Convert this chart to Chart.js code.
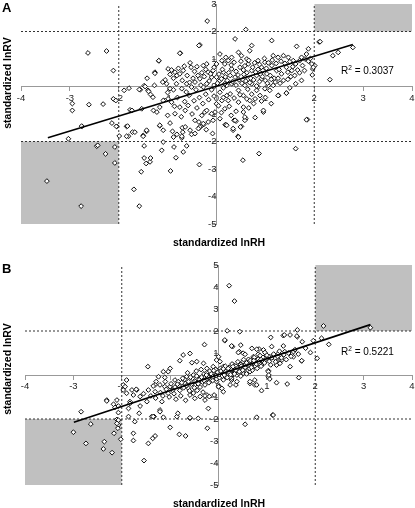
<!DOCTYPE html>
<html lang=en>
<head>
<meta charset=UTF-8>
<title>standardized lnRV vs standardized lnRH</title>
<script src="https://cdn.jsdelivr.net/npm/chart.js"></script>
<style>
  * { margin: 0; padding: 0; }
  body {
    width: 415px; height: 508px; position: relative; overflow: hidden;
    background: #fff; font-family: "Liberation Sans", Arial, sans-serif; color: #000;
  }
  canvas { position: absolute; left: 0; }
  #chartA { top: 0; }
  #chartB { top: 255px; }
  .panel { position: absolute; left: 2px; font-weight: bold; font-size: 13px; line-height: 13px; }
  .xtitle { position: absolute; left: 119px; width: 200px; text-align: center; font-weight: bold; font-size: 10.5px; line-height: 12px; }
  .ytitle { position: absolute; left: -53px; width: 120px; text-align: center; font-weight: bold; font-size: 10.5px; line-height: 12px; transform: rotate(-90deg); white-space: nowrap; }
  .r2 { position: absolute; left: 341px; font-size: 10px; line-height: 12px; white-space: nowrap; }
  .r2 sup { font-size: 6.5px; vertical-align: 4px; }
</style>
</head>
<body>
<canvas id="chartA" width="415" height="250"></canvas>
<canvas id="chartB" width="415" height="253"></canvas>

<div class="panel" style="top:1px">A</div>
<div class="panel" style="top:262px">B</div>
<div class="ytitle" style="top:77px">standardized lnRV</div>
<div class="ytitle" style="top:363px">standardized lnRV</div>
<div class="xtitle" style="top:236px">standardized lnRH</div>
<div class="xtitle" style="top:497px">standardized lnRH</div>
<div class="r2" style="top:62px">R<sup>2</sup> = 0.3037</div>
<div class="r2" style="top:343px">R<sup>2</sup> = 0.5221</div>

<script>
// panel A: standardized lnRH (x) vs standardized lnRV (y)
const pointsA = [
  [-2.63,1.22],[-2.25,1.29],[-2.11,0.58],[-2.95,-0.62],[-2.95,-0.87],[-2.61,-0.66],[-2.32,-0.64],[-2.11,-0.45],
  [-2.06,-0.51],[-1.89,-0.14],[-1.79,-0.06],[-1.56,-0.12],[-1.48,0.03],[-1.40,-0.14],[-1.30,-0.39],[-1.26,0.52],
  [-1.18,0.93],[-1.77,-0.85],[-2.04,-1.45],[-2.75,-1.45],[-1.84,-1.45],[-1.42,0.30],[-0.34,1.51],[-0.74,1.21],
  [-0.19,2.38],[0.60,2.07],[0.38,1.73],[2.10,1.62],[1.64,1.46],[2.38,1.12],[2.49,1.24],[2.79,1.42],
  [2.01,0.76],[1.97,0.64],[1.96,0.42],[2.32,0.25],[1.86,-1.20],[1.43,-0.24],[1.27,-0.33],[0.96,-0.93],
  [0.79,-1.13],[0.60,-1.17],[0.40,-1.26],[0.51,-1.45],[0.18,-1.39],
  [-3.03,-1.90],[-2.76,-1.44],[-2.45,-2.17],[-2.43,-2.14],[-2.27,-2.45],[-2.08,-2.20],[-2.08,-2.78],[-3.47,-3.44],
  [-2.77,-4.35],[-2.14,-1.33],[-2.05,-1.45],[-1.99,-1.80],[-1.82,-1.44],[-1.80,-1.81],[-1.72,-1.66],[-1.50,-1.78],
  [-1.43,-1.63],[-1.48,-2.16],[-1.48,-2.60],[-1.44,-2.80],[-1.36,-2.74],[-1.35,-2.60],[-1.54,-3.10],[-1.69,-3.74],
  [-1.58,-4.35],[-1.16,-1.43],[-1.09,-1.59],[-1.12,-2.32],[-1.09,-2.02],[-0.95,-1.33],[-0.90,-1.63],[-0.87,-2.20],
  [-0.83,-2.59],[-0.94,-3.07],[-0.81,-1.74],[-0.70,-1.50],[-0.69,-1.66],[-0.71,-1.87],[-0.68,-2.38],[-0.61,-2.16],
  [-0.51,-1.74],[-0.36,-1.29],[-0.35,-1.50],[-0.35,-2.84],[-0.29,-1.41],[-0.26,-1.38],
  [-0.08,-1.71],[0.19,-1.39],[0.34,-1.59],[0.49,-1.47],[0.44,-1.81],[0.36,-1.23],[0.58,-1.23],[0.54,-2.68],
  [0.87,-2.44],[1.62,-2.26],
  [-0.36,1.49],[-0.75,1.21],[-1.18,0.94],[-0.27,0.76],[-0.54,0.86],[-0.40,0.72],[-0.99,0.64],[-0.92,0.60],
  [-1.26,0.48],[-0.85,0.52],[-0.81,0.40],[-0.75,0.46],[-0.68,0.58],[-1.05,0.24],[-1.02,0.10],[-1.27,0.04],
  [-1.46,0.00],[-1.58,-0.11],[-1.39,-0.18],[-1.35,-0.29],[-0.95,-0.08],[-0.88,-0.12],[-0.71,-0.08],[-0.61,0.10],
  [-0.51,-0.02],[-0.44,0.16],[-0.34,0.28],[-0.27,-0.02],[-0.20,0.10],[-0.10,0.34],[-0.07,0.58],[0.07,1.18],
  [0.11,0.94],[0.17,0.82],[0.00,0.82],[-0.20,0.82],[-0.17,0.52],[0.00,0.34],[0.07,0.22],[0.07,-0.21],
  [0.11,-0.51],[0.00,-0.63],[-0.03,-0.93],[-0.10,-0.99],[-0.24,-0.93],[-0.20,-0.87],[-0.30,-1.05],[-0.34,-1.47],
  [-0.27,-1.35],[-0.37,-1.53],[-0.58,-0.69],[-0.64,-0.87],[-0.75,-0.75],[-0.85,-0.99],[-0.92,-0.57],[-0.99,-0.45],
  [-1.09,-0.51],[-1.16,-0.75],[-1.29,-0.87],[-1.22,-0.93],[-1.16,-1.41],[-1.43,-1.59],[-1.67,-1.66],[-1.50,-1.81],
  [-1.84,-1.81],[-1.73,-0.87],[-1.53,-0.81],[-0.88,-1.84],[-0.71,-1.81],[-0.54,-1.59],[-0.44,-1.23],[0.19,1.06],
  [0.14,0.52],[0.21,0.04],[0.21,-0.33],[0.17,-0.81],[0.07,-1.17],[-0.07,-1.23],[-0.17,-1.29],[-0.21,-1.57],
  [-0.44,-1.71],[-0.64,-1.47],
  [1.13,1.67],[1.88,1.37],[2.12,1.63],[0.72,1.49],[0.68,1.30],[0.51,1.12],[0.45,1.24],[0.31,1.06],
  [0.24,0.94],[0.62,1.00],[0.85,0.94],[0.99,0.88],[1.16,1.12],[1.26,1.06],[1.37,1.12],[1.47,1.06],
  [1.57,0.94],[1.74,1.06],[1.84,1.18],[1.81,1.00],[1.95,0.82],[1.98,0.70],[1.54,0.58],[1.43,0.70],
  [1.37,0.22],[1.43,-0.24],[1.26,-0.33],[1.20,0.16],[1.06,0.04],[1.09,-0.14],[0.99,-0.08],[0.85,-0.02],
  [0.82,-0.14],[0.89,-0.33],[0.92,-0.53],[0.79,-0.45],[0.68,-0.51],[0.62,-0.45],[0.55,-0.33],[0.45,-0.14],
  [0.45,-0.57],[0.55,-0.75],[0.55,-0.93],[0.58,-1.11],[0.96,-0.87],[0.38,-1.23],[0.34,-1.53],[0.45,-1.84],
  [0.21,-1.41],[1.84,-1.21],[0.24,-0.51],[0.28,-0.27],[0.17,0.10],[1.13,0.76],[1.23,0.58],[1.33,0.46],
  [0.72,0.58],[0.82,0.40],[0.58,0.34],[0.38,0.34],[0.31,0.64],[0.48,0.70],[0.65,0.82],[0.92,0.70],
  [1.03,0.46],[0.92,0.28],[0.31,0.10],[0.58,0.04],[0.72,0.10],
  [0.05,0.45],[0.12,0.62],[0.18,0.35],[0.25,0.50],[0.30,0.78],[0.36,0.88],[0.40,0.55],[0.44,0.42],
  [0.50,0.92],[0.55,0.60],[0.58,0.75],[0.62,0.50],[0.66,0.95],[0.70,0.30],[0.74,0.70],[0.78,0.86],
  [0.80,0.52],[0.85,0.62],[0.88,0.80],[0.90,0.45],[0.95,0.58],[0.98,1.02],[1.02,0.66],[1.06,0.86],
  [1.10,0.40],[1.14,0.96],[1.18,0.30],[1.22,0.84],[1.28,0.62],[1.32,0.92],[1.40,0.84],[1.46,0.52],
  [1.50,0.90],[1.56,0.72],[1.62,0.82],[1.66,0.60],[1.70,0.94],[1.76,0.76],[1.88,0.92],[1.92,1.02],
  [0.02,0.12],[0.10,0.28],[0.14,-0.05],[0.22,0.22],[0.28,0.40],[0.33,0.18],[0.40,0.05],[0.46,0.24],
  [0.52,0.12],[0.56,0.44],[0.60,0.20],[0.64,-0.10],[0.68,0.14],[0.76,0.24],[0.82,0.02],[0.88,0.18],
  [0.94,0.36],[1.00,0.22],[1.04,0.12],[1.12,0.26],[1.16,0.04],[1.26,0.30],[1.30,0.12],[1.46,0.26],
  [1.52,0.36],[1.60,0.40],[1.70,0.50],[1.80,0.58],
  [-0.05,0.70],[-0.12,0.46],[-0.15,0.20],[-0.22,0.62],[-0.25,0.36],[-0.30,0.50],[-0.32,0.05],[-0.38,0.40],
  [-0.42,-0.12],[-0.45,0.55],[-0.48,0.30],[-0.52,0.70],[-0.55,0.15],[-0.60,0.40],[-0.62,-0.20],[-0.66,0.74],
  [-0.70,0.22],[-0.78,0.66],[-0.82,0.10],[-0.88,0.30],[-0.95,0.44],[-1.00,-0.22],[-1.10,0.16],
  [-0.05,-0.35],[-0.10,-0.12],[-0.16,-0.48],[-0.22,-0.28],[-0.28,-0.62],[-0.35,-0.40],[-0.40,-0.78],[-0.46,-0.52],
  [-0.50,-1.00],[-0.56,-0.32],[-0.65,-0.55],[-0.72,-1.10],[-0.80,-0.40],[-0.86,-0.72],[-1.00,-1.05],
  [0.04,-0.70],[0.10,-0.95],[0.14,-0.40],[0.26,-0.72],[0.30,-1.05],[0.36,-0.42],[0.40,-0.90],[0.48,-0.30],
  [0.66,-0.78],[0.72,-0.28],[0.76,-0.62],[1.00,-0.40],[1.12,-0.62],[1.50,-0.05],[1.62,0.10],[1.74,0.22]
];
const trendAx = [-3.45, 2.79];
const trendAy = [-1.86, 1.53];

// panel B
const pointsB = [
  [-1.46,0.38],[0.22,4.06],[0.33,3.36],[0.18,2.01],[0.44,1.97],[0.13,1.56],[1.63,2.05],[2.17,2.23],
  [3.14,2.15],[1.08,1.71],[1.34,1.79],[1.48,1.82],[1.63,1.74],[1.73,1.51],[1.96,1.56],[2.13,1.67],
  [2.28,1.39],[2.04,0.76],[1.72,0.64],[1.48,0.38],[1.34,1.32],[0.29,1.29],[0.46,1.36],[0.69,1.21],
  [0.84,1.18],[0.93,1.14],[0.43,1.06],[0.51,0.99],[1.06,0.83],[1.27,0.68],[1.20,0.45],[1.03,0.20],
  [0.72,0.76],[-0.29,1.38],[1.66,-0.12],
  [-0.59,0.98],[-0.73,0.91],[-0.80,0.65],[-1.00,0.30],[-1.04,0.15],[-1.14,0.15],[-1.11,-0.11],[-1.24,-0.08],
  [-1.29,-0.30],[-1.21,-0.45],[-1.11,-0.53],[-1.00,-0.53],[-0.90,-0.23],[-0.83,-0.30],[-0.80,-0.53],[-0.69,-0.38],
  [-0.62,-0.61],[-0.49,-0.45],[-0.38,-0.15],[-0.52,0.00],[-0.66,-0.08],[-0.59,-0.91],[-0.49,-1.06],[-0.38,-0.98],
  [-0.24,-0.91],[-0.21,-1.52],[-0.28,-1.14],[-0.45,0.61],[-0.55,0.56],[-0.31,0.53],[-0.24,0.30],[-0.11,0.38],
  [-0.04,0.68],[-0.07,0.08],[-0.18,-0.30],[-1.45,-0.68],[-1.69,-0.68],[-1.48,-1.21],[-1.62,-1.41],[-1.76,-0.91],
  [-1.83,-1.21],[-1.86,-1.52],[-2.10,-1.14],[-2.14,-1.47],[-2.31,-1.14],[-1.97,-0.68],[-1.90,-0.23],[-1.97,-0.45],
  [-1.79,-0.68],[-1.70,-0.65],[-1.38,-1.89],[-1.33,-1.89],[-1.14,-1.92],[-0.86,-1.89],[-0.59,-1.97],[-0.42,-1.97],
  [-1.21,-1.59],[-1.00,-2.38],[-0.23,-2.42],[-2.10,-2.02],[-2.07,-2.27],[-1.73,-2.12],
  [-2.84,-1.67],[-3.00,-2.60],[-2.74,-3.11],[-2.64,-2.23],[-2.36,-3.03],[-2.38,-3.36],[-2.20,-3.53],[-2.16,-2.65],
  [-2.08,-2.42],[-2.07,-2.05],[-2.10,-2.20],[-2.02,-2.92],[-1.76,-2.65],[-1.76,-2.98],[-1.45,-3.11],[-1.36,-2.88],
  [-1.31,-2.77],[-1.54,-3.89],[-1.86,-1.89],[-1.64,-1.74],[-2.07,-1.71],[-2.31,-1.18],[-2.17,-1.33],[-2.07,-1.41],
  [-1.35,-1.89],[-1.21,-1.67],[-0.81,-2.70],[-0.68,-2.77],[-0.84,-1.74],[-0.59,-1.94],[-1.90,-0.83],[-1.93,-0.53],
  [-1.83,-1.29],[-1.62,-0.98],[-1.31,-0.76],[-1.17,-1.21],[-1.31,-0.45],[-1.04,-0.83],
  [1.42,-0.41],[0.89,-0.71],[0.75,-0.45],[0.65,-0.38],[1.03,-0.08],[1.06,-0.18],[0.46,-0.05],[0.36,-0.45],
  [0.27,-0.23],[0.10,-0.76],[-0.09,-0.91],[-0.19,-0.98],[-0.28,-0.95],[0.55,-2.24],[0.79,-1.92],[1.12,-1.82],
  [0.02,-0.53],
  [0.13,1.59],[0.27,1.32],[0.41,1.02],[0.55,0.94],[0.79,1.17],[0.82,0.94],[0.72,0.83],[0.62,0.71],
  [0.51,0.61],[1.36,1.82],[1.62,1.77],[1.10,1.29],[1.24,0.98],[0.96,1.02],[1.03,0.68],[1.17,0.76],
  [1.31,0.68],[1.37,1.06],[1.55,1.06],[1.55,0.83],[1.72,0.65],[1.27,0.53],[1.03,0.15],[1.04,0.00],
  [0.89,0.45],[0.75,0.38],[0.62,0.38],[0.44,0.38],[0.31,0.45],[0.24,0.23],[0.10,0.38],[0.00,0.83],
  [0.03,0.61],[-0.04,0.23],[0.07,0.08],[0.17,-0.08],[0.27,-0.15],[0.38,0.00],[0.51,0.08],[0.65,0.15],
  [0.75,-0.23],[0.65,-0.30],[0.79,-0.45],[0.38,-0.30],[0.24,-0.45],[0.07,-0.61],[0.00,-0.53],[-0.04,-0.30],
  [1.20,-0.35],[1.13,-1.82],
  [-0.95,-0.70],[-0.90,-0.55],[-0.85,-0.42],[-0.80,-0.70],[-0.76,-0.35],[-0.72,-0.58],[-0.70,-0.20],[-0.66,-0.48],
  [-0.62,-0.30],[-0.60,-0.72],[-0.56,-0.42],[-0.54,-0.15],[-0.50,-0.58],[-0.48,-0.30],[-0.45,-0.05],[-0.42,-0.40],
  [-0.40,-0.22],[-0.38,-0.55],[-0.35,-0.10],[-0.33,-0.32],[-0.30,0.05],[-0.28,-0.45],[-0.26,-0.20],[-0.24,0.10],
  [-0.22,-0.05],[-0.20,-0.35],[-0.18,0.18],[-0.16,-0.15],[-0.14,0.02],[-0.12,-0.25],[-0.10,0.12],[-0.08,-0.08],
  [-0.06,0.25],[-0.04,-0.18],[-0.02,0.05],[0.00,0.15],[0.02,-0.12],[0.04,0.30],[0.06,0.00],[0.08,0.20],
  [0.10,-0.22],[0.12,0.10],[0.14,0.40],[0.16,-0.02],[0.18,0.22],[0.20,0.05],[0.22,0.35],[0.24,-0.10],
  [0.26,0.15],[0.28,0.50],[0.30,0.02],[0.32,0.28],[0.34,0.12],[0.36,0.40],[0.38,0.20],[0.40,0.60],
  [0.42,0.08],[0.44,0.30],[0.46,0.48],[0.48,0.18],[0.50,0.36],[0.52,0.70],[0.54,0.25],[0.56,0.50],
  [0.58,0.05],[0.60,0.42],[0.62,0.58],[0.64,0.30],[0.66,0.66],[0.68,0.48],[0.70,0.22],[0.72,0.55],
  [0.74,0.80],[0.76,0.40],[0.78,0.62],[0.80,0.30],[0.82,0.72],[0.84,0.52],[0.86,0.88],[0.88,0.40],
  [0.90,0.64],[0.92,0.80],[0.95,0.55],[0.98,0.72],[1.00,0.90],[1.05,0.62],[1.08,0.46],[1.10,0.78],
  [1.14,0.95],[1.18,0.60],[1.22,0.84],[1.26,1.08],[1.30,0.78],[1.35,0.92],[1.40,0.70],[1.45,1.00],
  [1.50,0.85],[1.58,1.15],[1.65,0.95],[1.80,1.22],[1.90,1.02],
  [-0.30,-0.25],[-0.25,0.00],[-0.20,-0.12],[-0.15,0.05],[-0.12,-0.08],[-0.10,0.20],[-0.05,-0.02],[-0.02,0.12],
  [0.02,0.02],[0.05,0.18],[0.08,-0.05],[0.10,0.28],[0.12,0.00],[0.15,0.15],[0.18,-0.12],[0.20,0.30],
  [0.22,0.12],[0.25,0.02],[0.28,0.25],[0.30,0.38],[0.33,0.05],[0.36,0.22],[0.40,0.32],[0.43,0.15],
  [0.47,0.40],[0.50,0.22],[0.55,0.35],[0.58,0.55],[0.63,0.45],[0.68,0.35],[0.73,0.65],[0.78,0.50],
  [0.83,0.60],[0.88,0.70],
  [-1.20,-0.80],[-1.15,-0.95],[-1.08,-0.65],[-1.02,-1.00],[-0.98,-0.40],[-0.92,-0.85],[-0.88,-1.10],[-0.78,-0.95],
  [-0.74,-0.15],[-0.68,-1.15],[-0.64,0.10],[-0.58,-0.10],[-0.52,-0.82],[-0.46,0.18],[-0.44,-0.70],[-0.36,0.25],
  [-0.32,-0.78],[-1.40,-0.95],[-1.30,-1.05],[-1.55,-0.85],[-1.35,-0.50],[-1.10,-0.30]
];
const trendBx = [-2.99, 3.14];
const trendBy = [-2.15, 2.29];

// both panels: x range and cut-offs
const xRange = [-4, 4];
const cutLow = -2, cutHigh = 2;

function pt(x, y) { return { x: x, y: y }; }

function fitZero(s) {
  if (s.isHorizontal()) s.height = 0; else s.width = 0;
  s.paddingLeft = s.paddingRight = s.paddingTop = s.paddingBottom = 0;
}

function makePanel(id, points, tx, ty, yMin, yMax, pad) {
  const lineStyle = { type: 'line', borderColor: '#333', borderWidth: 1, borderDash: [2, 2],
                      pointRadius: 0, fill: false, order: 3 };
  return new Chart(document.getElementById(id), {
    type: 'scatter',
    data: {
      datasets: [
        { type: 'line', data: [pt(tx[0], ty[0]), pt(tx[1], ty[1])], borderColor: '#000',
          borderWidth: 1.6, pointRadius: 0, fill: false, order: 1 },
        { data: points.map(p => pt(p[0], p[1])), pointStyle: 'rectRot', pointRadius: 2.4,
          borderWidth: 1, borderColor: '#111', backgroundColor: '#fff', order: 2 },
        Object.assign({ data: [pt(cutLow, yMin), pt(cutLow, yMax)] }, lineStyle),
        Object.assign({ data: [pt(cutHigh, yMin), pt(cutHigh, yMax)] }, lineStyle),
        Object.assign({ data: [pt(xRange[0], cutLow), pt(xRange[1], cutLow)] }, lineStyle),
        Object.assign({ data: [pt(xRange[0], cutHigh), pt(xRange[1], cutHigh)] }, lineStyle),
        { type: 'line', data: [pt(xRange[0], cutLow), pt(cutLow, cutLow)], fill: { value: yMin },
          backgroundColor: '#c0c0c0', borderWidth: 0, pointRadius: 0, order: 4 },
        { type: 'line', data: [pt(cutHigh, yMax), pt(xRange[1], yMax)], fill: { value: cutHigh },
          backgroundColor: '#c0c0c0', borderWidth: 0, pointRadius: 0, order: 4 }
      ]
    },
    options: {
      responsive: false,
      animation: false,
      layout: { autoPadding: false, padding: pad },
      plugins: { legend: { display: false }, tooltip: { enabled: false } },
      scales: {
        x: {
          type: 'linear', min: xRange[0], max: xRange[1], position: { y: 0 },
          ticks: { stepSize: 1, color: '#222', font: { size: 9.5, family: 'Liberation Sans' }, padding: 2 },
          grid: { drawOnChartArea: false, tickLength: 4, color: '#999' },
          border: { color: '#999' },
          afterFit: fitZero
        },
        y: {
          type: 'linear', min: yMin, max: yMax, position: { x: 0 },
          ticks: { stepSize: 1, color: '#222', font: { size: 9.5, family: 'Liberation Sans' }, padding: 2 },
          grid: { drawOnChartArea: false, tickLength: 4, color: '#999' },
          border: { color: '#999' },
          afterFit: fitZero
        }
      }
    }
  });
}

makePanel('chartA', pointsA, trendAx, trendAy, -5, 3, { left: 21, right: 3, top: 4, bottom: 26 });
makePanel('chartB', pointsB, trendBx, trendBy, -5, 5, { left: 25, right: 3, top: 10, bottom: 23 });
</script>
</body>
</html>
